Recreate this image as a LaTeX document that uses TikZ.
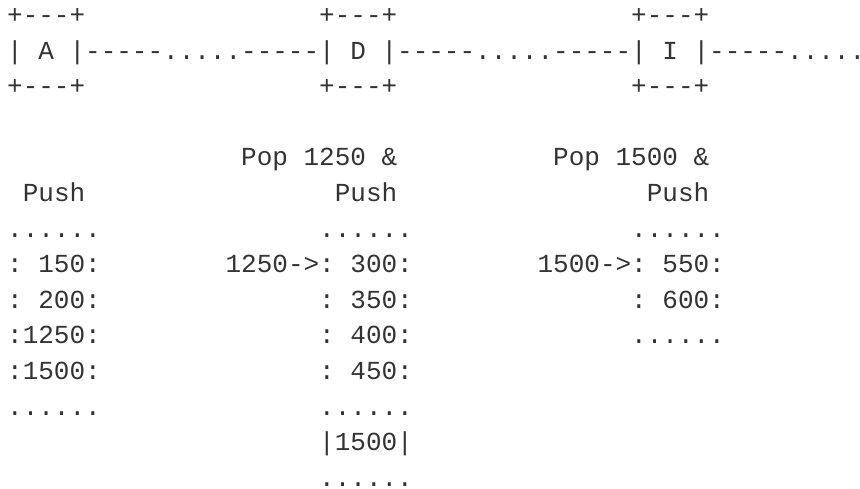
\documentclass[tikz,border=0pt]{standalone}
\usepackage{fontspec}
\setmonofont{Liberation Mono}
\definecolor{ink}{HTML}{333333}
\newcommand{\cw}{15.6}
\newcommand{\lh}{35.6}
\begin{document}
\begin{tikzpicture}[x=1pt,y=1pt,
  txt/.style={anchor=base west, inner sep=0pt, outer sep=0pt, text=ink,
    font=\ttfamily\fontsize{26}{30}\selectfont}]
\useasboundingbox (0,0) rectangle (860,-489);
% place at column c, row r
\def\at#1#2{({7.2+#1*\cw},{-23.5-#2*\lh})}
% row 0-2: boxes and links
\node[txt] (boxAtop) at \at{0}{0} {+---+};
\node[txt] (boxDtop) at \at{20}{0} {+---+};
\node[txt] (boxItop) at \at{40}{0} {+---+};
\node[txt] (chain) at \at{0}{1} {| A |-----.....-----| D |-----.....-----| I |-----.....};
\node[txt] (boxAbot) at \at{0}{2} {+---+};
\node[txt] (boxDbot) at \at{20}{2} {+---+};
\node[txt] (boxIbot) at \at{40}{2} {+---+};
% row 4-5: headings
\node[txt] (popD) at \at{15}{4} {Pop 1250 \&};
\node[txt] (popI) at \at{35}{4} {Pop 1500 \&};
\node[txt] (pushA) at \at{1}{5} {Push};
\node[txt] (pushD) at \at{21}{5} {Push};
\node[txt] (pushI) at \at{41}{5} {Push};
% stack A
\node[txt] (a0) at \at{0}{6} {......};
\node[txt] (a1) at \at{0}{7} {: 150:};
\node[txt] (a2) at \at{0}{8} {: 200:};
\node[txt] (a3) at \at{0}{9} {:1250:};
\node[txt] (a4) at \at{0}{10} {:1500:};
\node[txt] (a5) at \at{0}{11} {......};
% stack D
\node[txt] (d0) at \at{20}{6} {......};
\node[txt] (d1) at \at{14}{7} {1250->: 300:};
\node[txt] (d2) at \at{20}{8} {: 350:};
\node[txt] (d3) at \at{20}{9} {: 400:};
\node[txt] (d4) at \at{20}{10} {: 450:};
\node[txt] (d5) at \at{20}{11} {......};
\node[txt] (d6) at \at{20}{12} {|1500|};
\node[txt] (d7) at \at{20}{13} {......};
% stack I
\node[txt] (i0) at \at{40}{6} {......};
\node[txt] (i1) at \at{34}{7} {1500->: 550:};
\node[txt] (i2) at \at{40}{8} {: 600:};
\node[txt] (i3) at \at{40}{9} {......};
\end{tikzpicture}
\end{document}
